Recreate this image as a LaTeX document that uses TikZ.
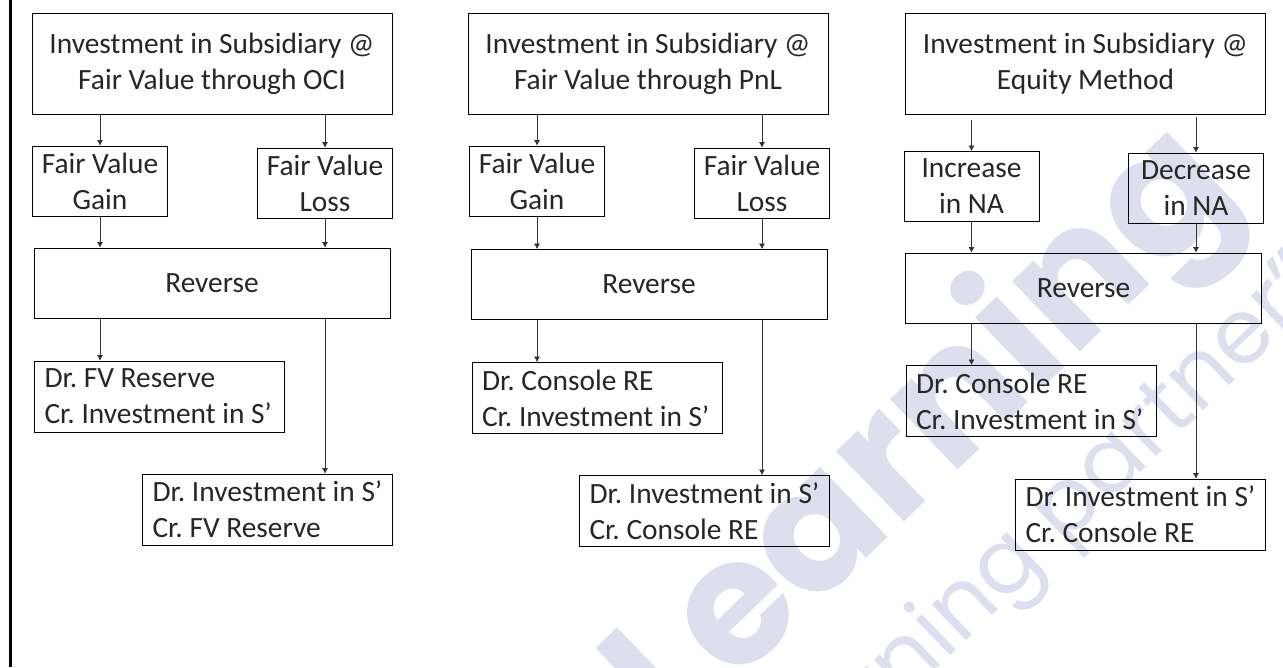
\documentclass[tikz,border=0pt]{standalone}
\usepackage{fontspec}
\usetikzlibrary{arrows.meta}
\setmainfont{Carlito}
\newfontfamily\wmfont{Poppins}
\definecolor{wmark}{HTML}{DDDFEE}
\frenchspacing

\begin{document}
\begin{tikzpicture}[x=1pt,y=-1pt]
\useasboundingbox (0,0) rectangle (1283,667);
\clip (0,0) rectangle (1283,667);
\node (wmbig) [rotate=44,text=wmark,font=\wmfont\fontsize{175}{175}\selectfont\bfseries] at (926,437) {Learning};
\node (wmthin) [rotate=44,text=wmark,font=\wmfont\fontsize{90}{90}\selectfont] at (1033,545) {Learning partner”};
\draw[line width=3pt] (10.3,0) -- (10.3,667);
\begin{scope}[every node/.style={draw, line width=.8pt, inner sep=0pt, align=center, text=black!85, font=\fontsize{29.4}{36}\selectfont},
  ledger/.style={align=flush left, inner xsep=10pt, text width=230pt, minimum height=71pt},
  topbox/.style={minimum width=360pt, minimum height=101pt},
  midbox/.style={minimum width=135pt, minimum height=70pt},
  revbox/.style={minimum width=356pt, minimum height=70pt}]
% left column
\node (top1) [topbox] at (212,64) {Investment in Subsidiary @\\Fair Value through OCI};
\node (gain1) [midbox] at (100,181) {Fair Value\\Gain};
\node (loss1) [midbox] at (325,183) {Fair Value\\Loss};
\node (rev1) [revbox] at (212,283) {Reverse};
\node (dr1) [ledger] at (159.5,396.5) {Dr. FV Reserve\\Cr. Investment in S’};
\node (cr1) [ledger] at (267.5,509.5) {Dr. Investment in S’\\Cr. FV Reserve};
% middle column
\node (top2) [topbox] at (648,64) {Investment in Subsidiary @\\Fair Value through PnL};
\node (gain2) [midbox] at (537,181) {Fair Value\\Gain};
\node (loss2) [midbox] at (762,183) {Fair Value\\Loss};
\node (rev2) [revbox] at (649,284.5) {Reverse};
\node (dr2) [ledger] at (597,398) {Dr. Console RE\\Cr. Investment in S’};
\node (cr2) [ledger] at (704.5,511) {Dr. Investment in S’\\Cr. Console RE};
% right column
\node (top3) [topbox] at (1085.5,64) {Investment in Subsidiary @\\Equity Method};
\node (gain3) [midbox] at (971.5,186.5) {Increase\\in NA};
\node (loss3) [midbox] at (1196,188) {Decrease\\in NA};
\node (rev3) [revbox] at (1083.5,288) {Reverse};
\node (dr3) [ledger] at (1031,401) {Dr. Console RE\\Cr. Investment in S’};
\node (cr3) [ledger] at (1140.5,514.5) {Dr. Investment in S’\\Cr. Console RE};
\end{scope}
\coordinate (from3) at (971.5,120);
\coordinate (from4) at (1196,117);
\begin{scope}[line width=.7pt, black!80, >={Latex[length=5.5pt,width=6pt]}]
\draw[->] (top1.south -| gain1) -- (gain1);
\draw[->] (top1.south -| loss1) -- (loss1);
\draw[->] (gain1) -- (rev1.north -| gain1);
\draw[->] (loss1) -- (rev1.north -| loss1);
\draw[->] (rev1.south -| gain1) -- (dr1.north -| gain1);
\draw[->] (rev1.south -| loss1) -- (cr1.north -| loss1);
\draw[->] (top2.south -| gain2) -- (gain2);
\draw[->] (top2.south -| loss2) -- (loss2);
\draw[->] (gain2) -- (rev2.north -| gain2);
\draw[->] (loss2) -- (rev2.north -| loss2);
\draw[->] (rev2.south -| gain2) -- (dr2.north -| gain2);
\draw[->] (rev2.south -| loss2) -- (cr2.north -| loss2);
\draw[->] (from3) -- (gain3);
\draw[->] (from4) -- (loss3);
\draw[->] (gain3) -- (rev3.north -| gain3);
\draw[->] (loss3) -- (rev3.north -| loss3);
\draw[->] (rev3.south -| gain3) -- (dr3.north -| gain3);
\draw[->] (rev3.south -| loss3) -- (cr3.north -| loss3);
\end{scope}
\end{tikzpicture}
\end{document}
